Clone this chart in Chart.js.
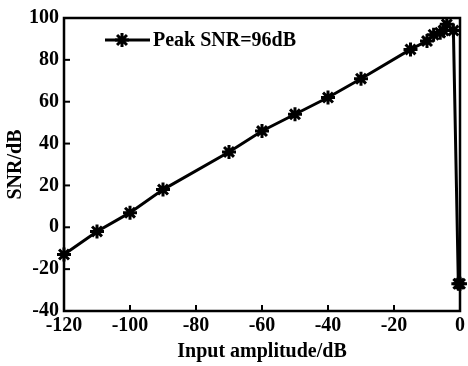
<!DOCTYPE html>
<html>
<head>
<meta charset="utf-8">
<script src="https://cdn.jsdelivr.net/npm/chart.js@4"></script>
<style>
  html, body { margin: 0; padding: 0; background: #fff; }
  #wrap { width: 468px; height: 366px; }
</style>
</head>
<body>
<div id="wrap"><canvas id="grafico"></canvas></div>
<script>
// input amplitude (dB) and measured SNR (dB)
const amplitud = [-120, -110, -100, -90, -70, -60, -50, -40, -30, -15, -10, -8, -6, -5, -4, -2, -0.5, 0];
const snr = [-13, -2, 7, 18, 36, 46, 54, 62, 71, 85, 89, 92, 93, 94, 97, 94, -27, -27];
const etiquetaSerie = 'Peak SNR=96dB';
const xTicks = [-120, -100, -80, -60, -40, -20, 0];
const yTicks = [-40, -20, 0, 20, 40, 60, 80, 100];

const fuente = '"Liberation Serif", "Times New Roman", serif';

// frame, inward tick marks and the in-plot legend
const marco = {
  id: 'marco',
  afterDraw(chart) {
    const ctx = chart.ctx;
    const a = chart.chartArea;
    ctx.save();
    ctx.strokeStyle = '#000';
    ctx.lineWidth = 2.5;
    ctx.strokeRect(a.left, a.top, a.right - a.left, a.bottom - a.top);
    ctx.lineWidth = 2;
    const sx = chart.scales.x, sy = chart.scales.y;
    sx.ticks.forEach((t, i) => {
      const px = sx.getPixelForTick(i);
      ctx.beginPath(); ctx.moveTo(px, a.bottom); ctx.lineTo(px, a.bottom - 6); ctx.stroke();
    });
    sy.ticks.forEach((t, i) => {
      const py = sy.getPixelForTick(i);
      ctx.beginPath(); ctx.moveTo(a.left, py); ctx.lineTo(a.left + 6, py); ctx.stroke();
    });
    // legend
    const lx = a.left + 41, ly = a.top + 22;
    ctx.lineWidth = 3;
    ctx.beginPath(); ctx.moveTo(lx, ly); ctx.lineTo(lx + 45, ly); ctx.stroke();
    Chart.helpers.drawPoint(ctx, { pointStyle: 'star', radius: 7, borderWidth: 3 }, lx + 17, ly);
    ctx.fillStyle = '#000';
    ctx.font = 'bold 20px ' + fuente;
    ctx.textBaseline = 'middle';
    ctx.fillText(etiquetaSerie, lx + 48, ly + 1);
    ctx.restore();
  }
};

new Chart(document.getElementById('grafico').getContext('2d'), {
  type: 'line',
  data: {
    datasets: [{
      label: etiquetaSerie,
      data: amplitud.map((x, i) => ({ x: x, y: snr[i] })),
      borderColor: '#000',
      backgroundColor: '#000',
      borderWidth: 3,
      tension: 0,
      pointStyle: 'star',
      pointRadius: 7,
      pointBorderWidth: 3,
      pointBorderColor: '#000',
      clip: false
    }]
  },
  options: {
    responsive: true,
    maintainAspectRatio: false,
    animation: false,
    layout: { autoPadding: false, padding: { left: 0, top: 18, right: 7, bottom: 0 } },
    plugins: {
      legend: { display: false },
      tooltip: { enabled: false }
    },
    scales: {
      x: {
        type: 'linear',
        min: -120,
        max: 0,
        afterBuildTicks: s => { s.ticks = xTicks.map(v => ({ value: v })); },
        afterFit: s => { s.height = 55; },
        grid: { display: false, drawTicks: false },
        border: { display: false },
        ticks: {
          color: '#000',
          padding: 3,
          maxRotation: 0,
          font: { family: fuente, size: 20, weight: 'bold' }
        },
        title: {
          display: true,
          text: 'Input amplitude/dB',
          color: '#000',
          padding: { top: 0, bottom: 2 },
          font: { family: fuente, size: 20, weight: 'bold' }
        }
      },
      y: {
        min: -40,
        max: 100,
        afterBuildTicks: s => { s.ticks = yTicks.map(v => ({ value: v })); },
        afterFit: s => { s.width = 64; },
        grid: { display: false, drawTicks: false },
        border: { display: false },
        ticks: {
          color: '#000',
          padding: 5,
          font: { family: fuente, size: 20, weight: 'bold' }
        },
        title: {
          display: true,
          text: 'SNR/dB',
          color: '#000',
          padding: { top: 4, bottom: 0 },
          font: { family: fuente, size: 20, weight: 'bold' }
        }
      }
    }
  },
  plugins: [marco]
});
</script>
</body>
</html>
